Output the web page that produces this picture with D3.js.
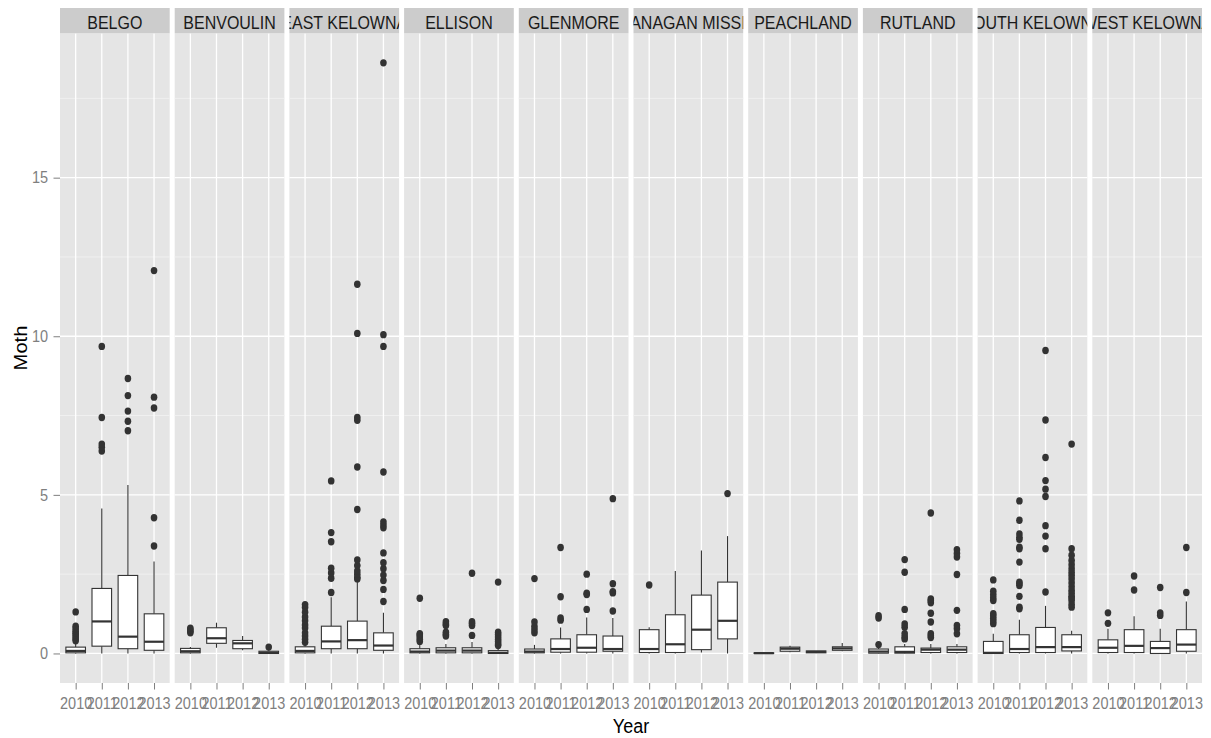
<!DOCTYPE html>
<html><head><meta charset="utf-8">
<script src="https://cdn.jsdelivr.net/npm/d3@7"></script>
<style>body{margin:0;background:#fff;} svg{display:block;font-family:"Liberation Sans",Arial,Helvetica,sans-serif;}</style>
</head><body><svg id="chart" width="1211" height="738"></svg>
<script>
const sites = ["BELGO","BENVOULIN","EAST KELOWNA","ELLISON","GLENMORE","OKANAGAN MISSION","PEACHLAND","RUTLAND","SOUTH KELOWNA","WEST KELOWNA"];
const years = ["2010","2011","2012","2013"];
const yTicks = [0, 5, 10, 15];
const yMinorTicks = [2.5, 7.5, 12.5, 17.5];

const whiskerLow = [
  [0,0,0,0],[0,0.18,0.1,0],[0,0,0,0],[0,0,0,0],[0,0,0,0],
  [0,0,0.03,0],[0,0.04,0.02,0.07],[0,0,0,0],[0,0,0,0],[0,0,0,0]];
const q1 = [
  [0.02,0.23,0.15,0.1],[0.02,0.32,0.15,0],[0.02,0.15,0.15,0.1],[0.02,0.02,0.02,0],[0.02,0.04,0.04,0.07],
  [0.03,0.03,0.12,0.46],[0,0.07,0.02,0.1],[0.01,0.01,0.03,0.03],[0,0.03,0.03,0.08],[0.03,0.03,0,0.07]];
const median = [
  [0.08,1.01,0.53,0.37],[0.07,0.48,0.32,0.02],[0.08,0.38,0.42,0.25],[0.06,0.09,0.09,0.02],[0.06,0.14,0.18,0.14],
  [0.14,0.29,0.75,1.03],[0.01,0.15,0.05,0.16],[0.06,0.05,0.12,0.12],[0.02,0.14,0.2,0.2],[0.18,0.24,0.17,0.28]];
const q3 = [
  [0.2,2.05,2.46,1.25],[0.16,0.81,0.41,0.07],[0.21,0.86,1.02,0.65],[0.15,0.18,0.18,0.09],[0.14,0.46,0.59,0.55],
  [0.75,1.22,1.84,2.25],[0.02,0.2,0.08,0.21],[0.14,0.21,0.17,0.21],[0.38,0.59,0.82,0.59],[0.43,0.75,0.38,0.75]];
const whiskerHigh = [
  [0.36,4.57,5.31,2.9],[0.2,0.97,0.55,0.1],[0.3,1.77,2.28,1.28],[0.27,0.3,0.36,0.2],[0.27,0.82,1.13,1.12],
  [0.83,2.6,3.25,3.7],[0.02,0.24,0.08,0.33],[0.2,0.3,0.3,0.3],[0.62,1.06,1.5,0.72],[0.78,1.17,0.78,1.64]];
const outliers = [
  [[0.4,0.46,0.52,0.58,0.64,0.7,0.78,0.86,1.31],[6.38,6.5,6.6,7.44,9.68],[7.02,7.32,7.64,8.13,8.67],[3.39,4.28,7.74,8.08,12.07]],
  [[0.65,0.7,0.75,0.8],[],[],[0.2]],
  [[0.35,0.45,0.55,0.65,0.8,0.9,1.03,1.15,1.3,1.45,1.54],[1.92,2.37,2.54,2.69,3.52,3.81,5.44],[2.35,2.4,2.5,2.6,2.77,2.95,4.54,5.88,7.35,7.44,10.09,11.64],[1.64,2.02,2.3,2.47,2.67,2.86,3.17,3.96,4.05,4.15,5.72,9.68,10.05,18.62]],
  [[0.38,0.45,0.52,0.58,0.62,1.74],[0.55,0.6,0.67,0.88,0.93,1.0],[0.57,0.88,0.95,1.0,2.53],[0.25,0.3,0.38,0.45,0.52,0.6,0.67,2.25]],
  [[0.65,0.75,0.85,0.99,2.36],[1.05,1.12,1.79,3.34],[1.39,1.86,1.9,2.5],[1.34,1.91,1.95,2.2,4.88]],
  [[2.16],[],[],[5.04]],
  [[],[],[],[]],
  [[0.28,1.12,1.19],[0.46,0.52,0.62,0.83,0.93,1.39,2.56,2.96],[0.5,0.56,0.62,0.99,1.27,1.6,1.66,1.72,4.43],[0.62,0.78,0.88,1.36,2.49,3.04,3.15,3.27]],
  [[0.94,1.02,1.1,1.18,1.25,1.67,1.75,1.85,1.96,2.32],[1.41,1.46,1.8,2.14,2.2,2.25,2.88,3.3,3.35,3.6,3.66,3.77,4.2,4.81],[1.94,3.3,3.7,4.03,4.95,5.18,5.45,6.18,7.36,9.55],[1.46,1.55,1.67,1.75,1.8,1.9,1.99,2.1,2.22,2.35,2.46,2.56,2.67,2.8,2.93,3.1,3.3,6.6]],
  [[0.95,1.28],[2.0,2.44],[1.2,1.28,2.08],[1.92,3.34]]
];

const svg = d3.select("#chart");
const plotLeft = 60, plotRight = 1202, stripTop = 8, panelTop = 33.3, panelBottom = 683;
const SY = 1.12; // vertical stretch of the glyphs in the reference

function stretchAbout(cy) {
  return `translate(0,${cy}) scale(1,${SY}) translate(0,${-cy})`;
}

const fx = d3.scaleBand().domain(sites).range([plotLeft, plotRight]).paddingInner(5 / 114.7).paddingOuter(0);
const bw = fx.bandwidth();
const x = d3.scalePoint().domain(years).range([0, bw]).padding(0.6);
const boxW = x.step() * 0.75;

const allVals = [];
sites.forEach((s, i) => years.forEach((yr, j) => {
  allVals.push(whiskerLow[i][j], whiskerHigh[i][j], ...outliers[i][j]);
}));
const vmin = d3.min(allVals), vmax = d3.max(allVals);
const pad = (vmax - vmin) * 0.05;
const y = d3.scaleLinear().domain([vmin - pad, vmax + pad]).range([panelBottom, panelTop]);

const defs = svg.append("defs");
const dark = "#333333";

sites.forEach((site, i) => {
  const g = svg.append("g").attr("transform", `translate(${fx(site)},0)`);
  g.append("rect").attr("x", 0).attr("y", panelTop).attr("width", bw).attr("height", panelBottom - panelTop).attr("fill", "#E5E5E5");
  g.selectAll("line.minor").data(yMinorTicks).join("line")
    .attr("x1", 0).attr("x2", bw).attr("y1", d => y(d)).attr("y2", d => y(d))
    .attr("stroke", "#F2F2F2").attr("stroke-width", 0.9);
  g.selectAll("line.major").data(yTicks).join("line")
    .attr("x1", 0).attr("x2", bw).attr("y1", d => y(d)).attr("y2", d => y(d))
    .attr("stroke", "#FFFFFF").attr("stroke-width", 1.3);
  g.selectAll("line.vmajor").data(years).join("line")
    .attr("x1", d => x(d)).attr("x2", d => x(d)).attr("y1", panelTop).attr("y2", panelBottom)
    .attr("stroke", "#FFFFFF").attr("stroke-width", 1.3);

  // strip
  const cid = "clip" + i;
  defs.append("clipPath").attr("id", cid).append("rect")
    .attr("x", 0).attr("y", stripTop).attr("width", bw).attr("height", panelTop - stripTop);
  g.append("rect").attr("x", 0).attr("y", stripTop).attr("width", bw).attr("height", panelTop - stripTop).attr("fill", "#CCCCCC");
  g.append("g").attr("clip-path", `url(#${cid})`).append("text")
    .attr("x", bw / 2).attr("y", 28.8).attr("text-anchor", "middle")
    .attr("transform", stretchAbout(22.9))
    .attr("font-size", 16).attr("fill", "#1A1A1A").text(site);

  years.forEach((yr, j) => {
    const cx = x(yr);
    const bg = g.append("g");
    bg.append("line").attr("x1", cx).attr("x2", cx).attr("y1", y(q3[i][j])).attr("y2", y(whiskerHigh[i][j]))
      .attr("stroke", dark).attr("stroke-width", 1.1);
    bg.append("line").attr("x1", cx).attr("x2", cx).attr("y1", y(q1[i][j])).attr("y2", y(whiskerLow[i][j]))
      .attr("stroke", dark).attr("stroke-width", 1.1);
    bg.append("rect").attr("x", cx - boxW / 2).attr("width", boxW)
      .attr("y", y(q3[i][j])).attr("height", Math.max(0.5, y(q1[i][j]) - y(q3[i][j])))
      .attr("fill", "#FFFFFF").attr("stroke", dark).attr("stroke-width", 1.1);
    bg.append("line").attr("x1", cx - boxW / 2).attr("x2", cx + boxW / 2)
      .attr("y1", y(median[i][j])).attr("y2", y(median[i][j]))
      .attr("stroke", dark).attr("stroke-width", 2.2);
    bg.selectAll("ellipse").data(outliers[i][j]).join("ellipse")
      .attr("cx", cx).attr("cy", d => y(d)).attr("rx", 3.3).attr("ry", 3.3 * SY).attr("fill", dark);
  });

  // x axis
  const xa = g.append("g").attr("transform", `translate(0,${panelBottom})`)
    .call(d3.axisBottom(x).tickSize(6.5).tickPadding(9));
  xa.select(".domain").remove();
  xa.selectAll("line").attr("stroke", "#7F7F7F").attr("stroke-width", 1);
  xa.selectAll("text").attr("fill", "#7F7F7F").attr("font-size", 14.5)
    .attr("font-family", "'Liberation Sans',Arial,sans-serif")
    .attr("transform", stretchAbout(21));
});

// y axis
const ya = svg.append("g").attr("transform", `translate(${plotLeft},0)`)
  .call(d3.axisLeft(y).tickValues(yTicks).tickSize(6.5).tickPadding(5.5));
ya.select(".domain").remove();
ya.selectAll("line").attr("stroke", "#7F7F7F").attr("stroke-width", 1);
ya.selectAll("text").attr("fill", "#7F7F7F").attr("font-size", 14.5)
  .attr("font-family", "'Liberation Sans',Arial,sans-serif")
  .attr("transform", stretchAbout(0));

svg.append("text").attr("x", (plotLeft + plotRight) / 2).attr("y", 731.8).attr("text-anchor", "middle")
  .attr("transform", stretchAbout(725.6))
  .attr("font-size", 18).attr("fill", "#000").text("Year");
svg.append("text").attr("transform", `translate(26.7,348) scale(1,${SY}) rotate(-90)`)
  .attr("text-anchor", "middle").attr("font-size", 18).attr("fill", "#000").text("Moth");
</script></body></html>
